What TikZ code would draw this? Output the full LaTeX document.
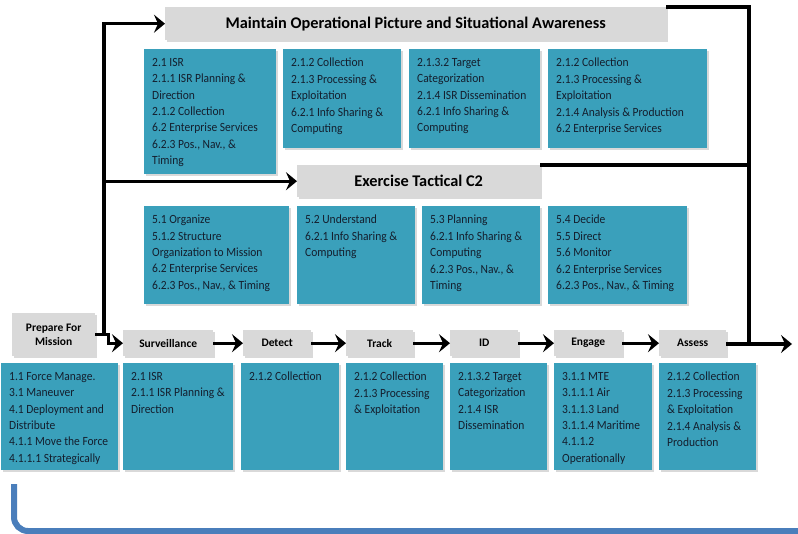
\documentclass[tikz,border=0pt]{standalone}
\usepackage{fontspec}
\setmainfont{Carlito}
\newfontfamily\fnfont{Carlito}[FakeStretch=0.92]
\usetikzlibrary{arrows.meta}
\usetikzlibrary{shadows}

\definecolor{fnblue}{RGB}{58,160,187}
\definecolor{taskgray}{RGB}{217,217,217}
\definecolor{fntext}{RGB}{20,30,45}
\definecolor{loopblue}{RGB}{74,126,187}

% function list: width, height, lines
\newcommand{\fnlist}[3]{\parbox[c][#2pt][t]{#1pt}{\raggedright\vspace*{4pt}#3}}

\tikzset{
	boxshadow/.style={drop shadow={shadow xshift=2pt,shadow yshift=-2pt,opacity=0.3}},
	task/.style={fill=taskgray, boxshadow, anchor=north west, inner sep=0pt, align=center,
		font=\fontsize{11.5}{14}\selectfont\bfseries},
	phase/.style={task, font=\fontsize{16.3}{19}\selectfont\bfseries},
	func/.style={fill=fnblue, boxshadow, anchor=north west, inner xsep=8pt, inner ysep=5pt,
		text=fntext, font=\fnfont\fontsize{12.5}{16.4}\selectfont},
	wire/.style={line width=3.2pt},
	flow/.style={wire, -{Stealth[length=11pt,width=18pt,inset=4pt]}}
}

\begin{document}
\begin{tikzpicture}[x=1pt,y=-1pt]
	\useasboundingbox (0,0) rectangle (798,534);

	% phases
	\node[phase, minimum width=501pt, minimum height=33pt] (maint) at (165,7) {Maintain Operational Picture and Situational Awareness};
	\node[phase, minimum width=243pt, minimum height=32pt] (exer) at (297,165) {Exercise Tactical C2};

	\node[func] (m1) at (144,49) {\fnlist{116}{115}{2.1 ISR\\2.1.1 ISR Planning \&\\Direction\\2.1.2 Collection\\6.2 Enterprise Services\\6.2.3 Pos., Nav., \&\\Timing}};
	\node[func] (m2) at (283,49) {\fnlist{102}{89}{2.1.2 Collection\\2.1.3 Processing \&\\Exploitation\\6.2.1 Info Sharing \&\\Computing}};
	\node[func] (m3) at (409,49) {\fnlist{115}{89}{2.1.3.2 Target\\Categorization\\2.1.4 ISR Dissemination\\6.2.1 Info Sharing \&\\Computing}};
	\node[func] (m4) at (548,49) {\fnlist{143}{89}{2.1.2 Collection\\2.1.3 Processing \&\\Exploitation\\2.1.4 Analysis \& Production\\6.2 Enterprise Services}};

	\node[func] (x1) at (144,206) {\fnlist{129}{88}{5.1 Organize\\5.1.2 Structure\\Organization to Mission\\6.2 Enterprise Services\\6.2.3 Pos., Nav., \& Timing}};
	\node[func] (x2) at (297,206) {\fnlist{102}{88}{5.2 Understand\\6.2.1 Info Sharing \&\\Computing}};
	\node[func] (x3) at (422,206) {\fnlist{102}{88}{5.3 Planning\\6.2.1 Info Sharing \&\\Computing\\6.2.3 Pos., Nav., \&\\Timing}};
	\node[func] (x4) at (548,206) {\fnlist{123}{88}{5.4 Decide\\5.5 Direct\\5.6 Monitor\\6.2 Enterprise Services\\6.2.3 Pos., Nav., \& Timing}};

	% kill chain
	\node[task, minimum width=83pt, minimum height=43pt] (prep) at (12,313) {Prepare For\\Mission};
	\foreach \n/\x/\w/\t in {surv/123/90/Surveillance, det/243/68/Detect, trk/346/67/Track,
		id/450/68/ID, eng/554/68/Engage, asm/659/67/Assess}
		\node[task, minimum width=\w pt, minimum height=26pt] (\n) at (\x,330) {\t};

	\node[func] (prepfn) at (1,363) {\fnlist{101}{97}{1.1 Force Manage.\\3.1 Maneuver\\4.1 Deployment and\\Distribute\\4.1.1 Move the Force\\4.1.1.1 Strategically}};
	\node[func] (survfn) at (123,363) {\fnlist{94}{97}{2.1 ISR\\2.1.1 ISR Planning \&\\Direction}};
	\node[func] (detfn) at (241,363) {\fnlist{82}{97}{2.1.2 Collection}};
	\node[func] (trkfn) at (346,363) {\fnlist{81}{97}{2.1.2 Collection\\2.1.3 Processing\\\& Exploitation}};
	\node[func] (idfn) at (450,363) {\fnlist{81}{97}{2.1.3.2 Target\\Categorization\\2.1.4 ISR\\Dissemination}};
	\node[func] (engfn) at (554,363) {\fnlist{82}{97}{3.1.1 MTE\\3.1.1.1 Air\\3.1.1.3 Land\\3.1.1.4 Maritime\\4.1.1.2\\Operationally}};
	\node[func] (asmfn) at (659,363) {\fnlist{81}{97}{2.1.2 Collection\\2.1.3 Processing\\\& Exploitation\\2.1.4 Analysis \&\\Production}};

	% connectors
	\coordinate (bus) at (104,334.5);
	\coordinate (rail) at (749,344);
	\coordinate (exit) at (792,344);
	\draw[flow] (prep.east) -- ++(13,0) |- (surv.west);
	\draw[flow] (bus) |- (maint.west);
	\draw[flow] (bus |- exer.west) -- (exer.west);
	\foreach \a/\b in {surv/det, det/trk, trk/id, id/eng, eng/asm}
		\draw[flow] (\a.east) -- (\b.west);
	\draw[flow] (asm.east |- exit) -- (exit);
	\draw[wire] (maint.north east) -| (rail);
	\draw[wire] (exer.north east) -- (exer.north east -| rail);

	\draw[loopblue, line width=6pt, rounded corners=14pt] (14,484) |- (798,531);
\end{tikzpicture}
\end{document}
